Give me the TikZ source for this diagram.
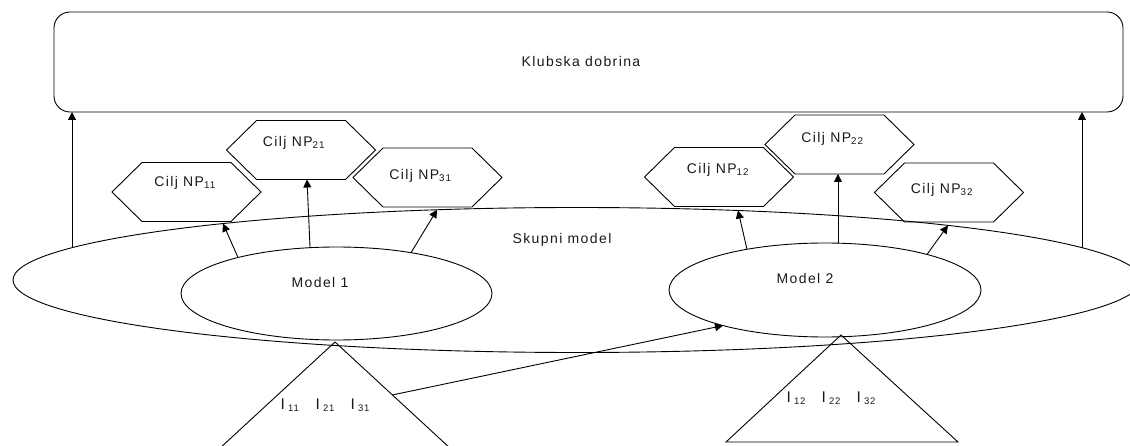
\documentclass[tikz,border=0pt]{standalone}
\usepackage{fontspec}
\setmainfont{Liberation Sans}[LetterSpace=10]
\usetikzlibrary{arrows.meta,shapes.geometric,calc}
\newcommand\subidx[1]{\raisebox{-2.5pt}{\fontsize{9.5}{10}\selectfont #1}}
\newcommand\igroup[1]{\makebox[35pt][l]{I\hspace{3.2pt}\subidx{#1}}}
\begin{document}
\begin{tikzpicture}[x=1pt,y=-1pt,line width=0.9pt,
  every node/.style={inner sep=0pt,outer sep=0pt},
  txt/.style={font=\fontsize{14}{16}\selectfont,text=black!90},
  itxt/.style={font=\fontsize{15.5}{17}\selectfont,text=black!90,anchor=base west},
  hexbox/.style={minimum width=149pt,minimum height=59pt},
  oval/.style={draw,ellipse},
  arr/.style={-{Triangle[length=8pt,width=8pt]}}]
\useasboundingbox (0,0) rectangle (1130,446);
\clip (0,0) rectangle (1130,446);

% top box
\node[draw,rounded corners=16pt,minimum width=1069pt,minimum height=100pt] (box) at (588.5,62) {};
\node[txt] (boxt) at (581,61) {Klubska dobrina};

% joint model and the two models
\node[oval,minimum width=1128pt,minimum height=145pt] (sk) at (577,280) {};
\node[txt] (skt) at (562,240) {Skupni model};
\node[oval,minimum width=311pt,minimum height=93pt] (m1) at (336.5,293.5) {};
\node[txt] (m1t) at (320,282) {Model 1};
\node[oval,minimum width=312pt,minimum height=94pt] (m2) at (825,290) {};
\node[txt] (m2t) at (805,278) {Model 2};

% points on the ellipse outlines (parametric angle : radii)
\coordinate (sk-11) at ($(sk.center)+(128.88:564pt and 72.5pt)$);
\coordinate (sk-31) at ($(sk.center)+(104.37:564pt and 72.5pt)$);
\coordinate (sk-12) at ($(sk.center)+(73.41:564pt and 72.5pt)$);
\coordinate (sk-32) at ($(sk.center)+(48.87:564pt and 72.5pt)$);
\coordinate (sk-l)  at ($(sk.center)+(153.56:564pt and 72.5pt)$);
\coordinate (sk-r)  at ($(sk.center)+(26.44:564pt and 72.5pt)$);
\coordinate (m1-a) at ($(m1.center)+(129.3:155.5pt and 46.5pt)$);
\coordinate (m1-b) at ($(m1.center)+(99.8:155.5pt and 46.5pt)$);
\coordinate (m1-c) at ($(m1.center)+(61.37:155.5pt and 46.5pt)$);
\coordinate (m2-a) at ($(m2.center)+(120:156pt and 47pt)$);
\coordinate (m2-b) at ($(m2.center)+(85.22:156pt and 47pt)$);
\coordinate (m2-c) at ($(m2.center)+(49.17:156pt and 47pt)$);
\coordinate (m2-in) at ($(m2.center)+(229.17:156pt and 47pt)$);

% goal hexagons
\node[hexbox] (n11) at (186.5,192) {};
\node[hexbox] (n21) at (301,150) {};
\node[hexbox] (n31) at (427.5,177.5) {};
\node[hexbox] (n12) at (719,177) {};
\node[hexbox] (n22) at (839.5,144.5) {};
\node[hexbox] (n32) at (949,192.5) {};
\foreach \h in {n11,n21,n31,n12,n22,n32}
  \draw (\h.west) -- ([xshift=30pt]\h.north west) -- ([xshift=-30pt]\h.north east)
        -- (\h.east) -- ([xshift=-30pt]\h.south east) -- ([xshift=30pt]\h.south west) -- cycle;
\node[txt] (n11t) at (185,183) {Cilj NP\textsubscript{11}};
\node[txt] (n21t) at (294,143) {Cilj NP\textsubscript{21}};
\node[txt] (n31t) at (420.5,176) {Cilj NP\textsubscript{31}};
\node[txt] (n12t) at (718,170) {Cilj NP\textsubscript{12}};
\node[txt] (n22t) at (832.5,139) {Cilj NP\textsubscript{22}};
\node[txt] (n32t) at (942,189.5) {Cilj NP\textsubscript{32}};

% input triangles
\coordinate (t1a) at (335,342);
\coordinate (t1l) at (206,461);
\coordinate (t1r) at (464,461);
\draw (t1a) -- (t1l) -- (t1r) -- cycle;
\coordinate (t2a) at (841,335);
\coordinate (t2l) at (726,442);
\coordinate (t2r) at (958,442);
\draw (t2a) -- (t2l) -- (t2r) -- cycle;
\node[itxt] (t1t) at (280.5,409) {\igroup{11}\igroup{21}\igroup{31}};
\node[itxt] (t2t) at (786.5,402) {\igroup{12}\igroup{22}\igroup{32}};
\coordinate (t1s) at ($(t1a)!0.445!(t1r)$);

% connectors
\draw[arr] (m1-a) -- (sk-11);
\draw[arr] (m1-b) -- ([xshift=6pt]n21.south);
\draw[arr] (m1-c) -- (sk-31);
\draw[arr] (m2-a) -- (sk-12);
\draw[arr] (m2-b) -- (m2-b |- n22.south);
\draw[arr] (m2-c) -- (sk-32);
\draw[arr] (sk-l) -- (sk-l |- box.south);
\draw[arr] (sk-r) -- (sk-r |- box.south);
\draw[arr] (t1s) -- (m2-in);
\end{tikzpicture}
\end{document}
